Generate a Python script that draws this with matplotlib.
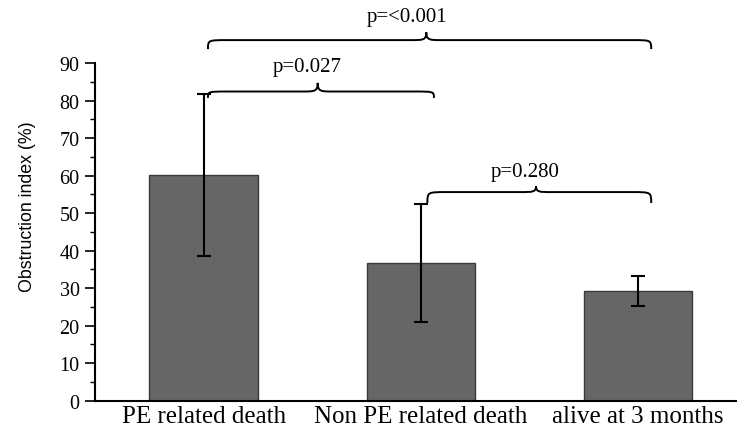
import matplotlib
matplotlib.use("Agg")
import matplotlib.pyplot as plt
from matplotlib.path import Path
from matplotlib.patches import PathPatch
from matplotlib.ticker import MultipleLocator

categories = ["PE related death", "Non PE related death", "alive at 3 months"]
means = [60.2, 36.6, 29.3]
err_upper = [81.8, 52.4, 33.3]
err_lower = [38.6, 20.9, 25.3]
# comparisons: (from bar, to bar, label, brace end y, brace line y, brace peak y, text y)
comparisons = [
    (0, 2, "p=<0.001", 93.7, 96.1, 98.2, 102.5),
    (0, 1, "p=0.027", 80.7, 82.4, 84.7, 89.0),
    (1, 2, "p=0.280", 52.7, 55.6, 57.2, 61.0),
]

fig = plt.figure(figsize=(7.37, 4.27), dpi=100)
ax = fig.add_axes([95/737, (427-401.7)/427, 1 - 95/737, (401.7-64)/427])

x = list(range(len(categories)))
yerr = [[m - lo for m, lo in zip(means, err_lower)],
        [hi - m for m, hi in zip(means, err_upper)]]
ax.bar(x, means, width=0.5, color="#666666", edgecolor="#3a3a3a", linewidth=1.0, zorder=2)
ax.errorbar(x, means, yerr=yerr, fmt="none", ecolor="black", elinewidth=1.5,
            capsize=5, capthick=1.5, zorder=3)

ax.set_xlim(-0.5, 2.455)
ax.set_ylim(0, 90)
ax.set_xticks(x)
ax.set_xticklabels(categories, fontfamily="Liberation Serif", fontsize=18)
ax.tick_params(axis="x", length=0, pad=3)
ax.yaxis.set_major_locator(MultipleLocator(10))
ax.yaxis.set_minor_locator(MultipleLocator(5))
ax.tick_params(axis="y", which="major", length=7, width=1.2, direction="out", pad=4)
ax.tick_params(axis="y", which="minor", length=3.5, width=1.0, direction="out")
for lbl in ax.get_yticklabels():
    lbl.set_fontfamily("Liberation Serif")
    lbl.set_fontsize(14.5)
ax.set_ylabel("Obstruction index (%)", fontfamily="Liberation Sans", fontsize=12.8)
ax.yaxis.set_label_coords(-(95 - 36) / 642, (401.7 - 207) / 337.7)
for s in ["top", "right"]:
    ax.spines[s].set_visible(False)
ax.spines["left"].set_linewidth(1.5)
ax.spines["bottom"].set_linewidth(1.5)


def brace(ax, x0, x1, yend, yline, ypeak):
    r = 0.09
    xm = (x0 + x1) / 2 - 0.015
    rp = 0.07
    verts = [
        (x0, yend),
        (x0, yline), (x0, yline), (x0 + r, yline),
        (xm - rp, yline),
        (xm - 0.015, yline), (xm, yline), (xm, ypeak),
        (xm, yline), (xm + 0.015, yline), (xm + rp, yline),
        (x1 - r, yline),
        (x1, yline), (x1, yline), (x1, yend),
    ]
    codes = [Path.MOVETO,
             Path.CURVE4, Path.CURVE4, Path.CURVE4,
             Path.LINETO,
             Path.CURVE4, Path.CURVE4, Path.CURVE4,
             Path.CURVE4, Path.CURVE4, Path.CURVE4,
             Path.LINETO,
             Path.CURVE4, Path.CURVE4, Path.CURVE4]
    patch = PathPatch(Path(verts, codes), facecolor="none", edgecolor="black",
                      linewidth=1.4, clip_on=False)
    ax.add_patch(patch)
    return xm


for i, j, label, yend, yline, ypeak, ytext in comparisons:
    x0 = x[i] + (0.02 if i == 0 else 0.03)
    x1 = x[j] + 0.06
    xm = brace(ax, x0, x1, yend, yline, ypeak)
    dx = -0.09 if j - i == 2 else -0.05
    ax.text(xm + dx, ytext, label, ha="center", va="center",
            fontfamily="Liberation Serif", fontsize=15, clip_on=False)

fig.savefig("out.png", dpi=100)
